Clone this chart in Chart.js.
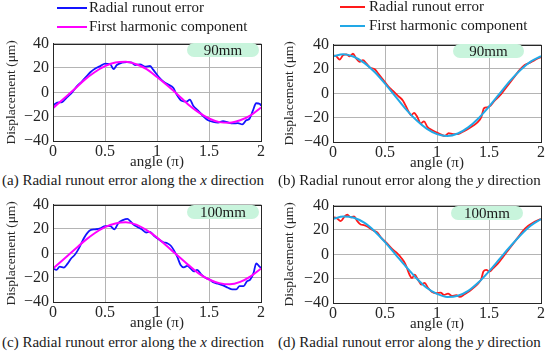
<!DOCTYPE html>
<html>
<head>
<meta charset="utf-8">
<script src="https://cdn.jsdelivr.net/npm/chart.js@4.4.1/dist/chart.umd.min.js"></script>
<style>
  body { margin: 0; background: #fff; }
  #wrap { position: relative; width: 550px; height: 354px; overflow: hidden;
          font-family: "Liberation Serif", "Times New Roman", serif; color: #1a1a1a; }
  canvas { position: absolute; }
  .legend { position: absolute; font-size: 15px; line-height: 19px; }
  .legend .row { display: flex; align-items: center; white-space: nowrap; }
  .legend .swatch { display: inline-block; height: 2px; }
  .caption { position: absolute; font-size: 15px; line-height: 16px; white-space: nowrap; }
  .tag { position: absolute; height: 14px; border-radius: 7px; background: #c8f4dc;
         font-size: 15px; line-height: 15px; text-align: center; }
</style>
</head>
<body>
<div id="wrap">
  <canvas id="chartA" width="275" height="142" style="left:0;top:30px"></canvas>
  <canvas id="chartB" width="272" height="142" style="left:278px;top:31px"></canvas>
  <canvas id="chartC" width="275" height="142" style="left:0;top:191px"></canvas>
  <canvas id="chartD" width="272" height="142" style="left:278px;top:192px"></canvas>

  <div class="legend" id="legendA" style="left:57px;top:-2px"></div>
  <div class="legend" id="legendB" style="left:340px;top:-3px"></div>

  <div class="tag" style="left:187px;top:43px;width:72px">90mm</div>
  <div class="tag" style="left:453px;top:44px;width:71px">90mm</div>
  <div class="tag" style="left:187px;top:205px;width:72px">100mm</div>
  <div class="tag" style="left:451px;top:206px;width:72px">100mm</div>

  <div class="caption" style="left:2px;top:172px">(a) Radial runout error along the <i>x</i> direction</div>
  <div class="caption" style="left:278px;top:172px">(b) Radial runout error along the <i>y</i> direction</div>
  <div class="caption" style="left:2px;top:334px">(c) Radial runout error along the <i>x</i> direction</div>
  <div class="caption" style="left:278px;top:334px">(d) Radial runout error along the <i>y</i> direction</div>
</div>

<script>
// ---- data (angle in units of pi, displacement in um) ----
const xTickValues = [0, 0.5, 1, 1.5, 2];
const yTickValues = [-40, -20, 0, 20, 40];

const harmonicAngles = [0, 0.1, 0.2, 0.3, 0.4, 0.5, 0.6, 0.7, 0.8, 0.9, 1,
                        1.1, 1.2, 1.3, 1.4, 1.5, 1.6, 1.7, 1.8, 1.9, 2];

// (a) 90mm, x direction
const anglesA = [0, 0.04, 0.088, 0.136, 0.184, 0.231, 0.279, 0.327, 0.359, 0.407,
                 0.455, 0.502, 0.55, 0.582, 0.614, 0.662, 0.71, 0.758, 0.789, 0.837,
                 0.885, 0.933, 0.965, 1.013, 1.06, 1.108, 1.156, 1.188, 1.236, 1.284,
                 1.316, 1.348, 1.395, 1.443, 1.491, 1.539, 1.587, 1.635, 1.683, 1.73,
                 1.778, 1.82, 1.858, 1.89, 1.922, 1.954, 1.99, 2];
const runoutA = [-11, -8.5, -8, -4, 0, 5, 9, 13.5, 16.5, 19.5,
                 21.5, 23.5, 23.2, 19, 22.4, 24.3, 24.8, 24.3, 22.4, 23,
                 21, 21.6, 18.4, 13, 9, 6.4, 3.7, -1.6, -7, -7.7,
                 -6, -11, -15, -19.5, -23, -24.3, -24.8, -23.7, -24.8, -25.6,
                 -25.3, -26.4, -23, -21.6, -15, -9, -9.6, -11];
const harmonicA = [-13, -5.5, 2, 10, 16.5, 21.5, 24.5, 25, 23, 19, 12.5,
                   5.5, -2, -10, -16.5, -21.5, -24.5, -25, -23, -19, -12.5];

// (b) 90mm, y direction
const anglesB = [0, 0.032, 0.064, 0.096, 0.128, 0.16, 0.192, 0.224, 0.256, 0.288,
                 0.321, 0.353, 0.401, 0.433, 0.481, 0.529, 0.577, 0.625, 0.673, 0.721,
                 0.753, 0.779, 0.811, 0.843, 0.875, 0.907, 0.946, 0.994, 1.042, 1.074,
                 1.112, 1.154, 1.202, 1.25, 1.298, 1.346, 1.394, 1.426, 1.452, 1.484,
                 1.516, 1.554, 1.603, 1.651, 1.699, 1.747, 1.795, 1.843, 1.891, 1.939,
                 1.987, 2];
const runoutB = [31.2, 30.4, 27.7, 31.2, 32, 30.4, 32.5, 28.5, 25.9, 27.2,
                 24.5, 21.3, 19.7, 16.5, 11.2, 5.9, 1.9, -2.1, -6.1, -14,
                 -18, -16, -19.5, -24.8, -23, -27.5, -30, -32, -34, -35,
                 -32.8, -33.6, -33.5, -31.5, -29.3, -26.7, -23.5, -19.5, -12.3, -11.5,
                 -10, -6.1, -2, 3.2, 8.5, 13.9, 19.2, 23.2, 25, 27.2,
                 29.3, 29.5];
const harmonicB = [30.5, 32, 30, 25, 17.5, 8, -2.5, -13, -22, -29, -33.5,
                   -35, -33, -28, -20.5, -11, -0.5, 10, 19, 26, 30.5];

// (c) 100mm, x direction
const anglesC = [0, 0.033, 0.065, 0.104, 0.142, 0.174, 0.206, 0.238, 0.27, 0.301,
                 0.333, 0.365, 0.407, 0.455, 0.502, 0.55, 0.589, 0.63, 0.671, 0.716,
                 0.742, 0.774, 0.812, 0.853, 0.895, 0.933, 0.971, 1.013, 1.061, 1.099,
                 1.131, 1.163, 1.195, 1.227, 1.258, 1.29, 1.322, 1.354, 1.386, 1.427,
                 1.469, 1.507, 1.539, 1.587, 1.635, 1.683, 1.724, 1.762, 1.794, 1.833,
                 1.864, 1.896, 1.928, 1.954, 1.986, 2];
const runoutC = [-12.3, -13.6, -11, -11.7, -8.3, -4.3, -1.6, 2.4, 7.7, 13,
                 17, 19.2, 19.7, 20.5, 22.4, 22.4, 19.7, 25, 27.2, 28.3,
                 26.4, 23.7, 21.6, 19.7, 17.1, 17.6, 14.4, 11.7, 9.1, 8.3,
                 6.4, 2.4, -2.9, -9.6, -11.5, -10.4, -12.3, -14.9, -13.6, -17.6,
                 -20.3, -21.6, -23.7, -25, -26.4, -28.3, -29.6, -29.6, -27, -27,
                 -23, -21.6, -16.3, -8.3, -11, -12];
const harmonicC = [-12.5, -5, 2.5, 10, 16.5, 21.5, 24.5, 25.5, 23.5, 19, 13,
                   5.5, -2, -9.5, -16.5, -21.5, -24.5, -25.5, -23.5, -19, -12.5];

// (d) 100mm, y direction
const anglesD = [0, 0.032, 0.074, 0.112, 0.138, 0.17, 0.202, 0.234, 0.266, 0.298,
                 0.337, 0.385, 0.426, 0.465, 0.513, 0.561, 0.609, 0.657, 0.696, 0.737,
                 0.76, 0.785, 0.817, 0.849, 0.881, 0.913, 0.952, 0.994, 1.035, 1.067,
                 1.106, 1.144, 1.186, 1.218, 1.266, 1.314, 1.362, 1.401, 1.426, 1.446,
                 1.474, 1.506, 1.538, 1.587, 1.635, 1.683, 1.731, 1.779, 1.827, 1.875,
                 1.923, 1.987, 2];
const runoutD = [30.4, 29.9, 27.2, 31.2, 32.5, 30.4, 31.2, 27.2, 24.5, 24,
                 22.4, 19.7, 17.9, 13.5, 9.5, 5, 1.5, -3, -8, -17,
                 -19.5, -16.8, -20.8, -24.8, -23.5, -27.5, -31, -32, -31.5, -33.3,
                 -32.3, -34.1, -33.6, -35, -32.8, -30.1, -26.7, -23.5, -20.3, -14.1,
                 -12.8, -14.1, -11.5, -7.5, -2.1, 3.2, 8.5, 13.9, 19.2, 23.2,
                 25.9, 28.5, 29];
const harmonicD = [29, 31, 30, 26, 19, 10, 0, -10, -19.5, -27.5, -32.5,
                   -35, -34, -30, -23, -14, -4, 6, 15.5, 23.5, 29];

const seriesNames = ["Radial runout error", "First harmonic component"];

// ---- drawing ----
const FONT = "'Liberation Serif', serif";
const INK = "#262626";

// box around the plot area, like a matlab axes
const frame = {
  id: "frame",
  afterDraw(chart) {
    const { ctx, chartArea: a } = chart;
    ctx.save();
    ctx.strokeStyle = INK;
    ctx.lineWidth = 1;
    ctx.strokeRect(Math.round(a.left) + 0.5, Math.round(a.top) + 0.5,
                   Math.round(a.right - a.left), Math.round(a.bottom - a.top));
    ctx.restore();
  }
};

const toPoints = (xs, ys) => xs.map((x, i) => ({ x, y: ys[i] }));

function makeChart(id, angles, runout, harmonic, colors, yWidth, padRight) {
  return new Chart(document.getElementById(id), {
    type: "line",
    data: {
      datasets: [
        {
          label: seriesNames[0],
          data: toPoints(angles, runout),
          borderColor: colors[0],
          borderWidth: 1.8,
          pointRadius: 0,
          cubicInterpolationMode: "monotone",
          order: 2,
        },
        {
          label: seriesNames[1],
          data: toPoints(harmonicAngles, harmonic),
          borderColor: colors[1],
          borderWidth: 2,
          pointRadius: 0,
          cubicInterpolationMode: "monotone",
          order: 1,
        },
      ],
    },
    options: {
      responsive: false,
      animation: false,
      layout: { padding: { top: 11, right: padRight, left: 0, bottom: 0 } },
      plugins: { legend: { display: false }, tooltip: { enabled: false } },
      scales: {
        x: {
          type: "linear",
          min: 0,
          max: 2,
          afterBuildTicks: (s) => { s.ticks = xTickValues.map((v) => ({ value: v })); },
          afterFit: (s) => { s.height = 31; },
          grid: { color: "#b4b4b4", drawTicks: false },
          border: { color: INK },
          ticks: {
            padding: 1,
            color: INK,
            font: { family: FONT, size: 16 },
            maxRotation: 0,
            callback: (v) => String(v),
          },
          title: {
            display: true,
            text: "angle (π)",
            color: INK,
            font: { family: FONT, size: 15 },
            padding: { top: 0, bottom: 1 },
          },
        },
        y: {
          min: -40,
          max: 40,
          afterBuildTicks: (s) => { s.ticks = yTickValues.map((v) => ({ value: v })); },
          afterFit: (s) => { s.width = yWidth; },
          grid: { color: "#b4b4b4", drawTicks: false },
          border: { color: INK },
          ticks: {
            padding: 4,
            color: INK,
            font: { family: FONT, size: 16 },
            callback: (v) => (v < 0 ? "\u2212" + Math.abs(v) : String(v)),
          },
          title: {
            display: true,
            text: "Displacement (μm)",
            color: INK,
            font: { family: FONT, size: 13.5 },
            padding: { top: 3, bottom: 0 },
          },
        },
      },
    },
    plugins: [frame],
  });
}

// legend built from the chart's own datasets
function buildLegend(chart, elId, swatchWidth, gap) {
  const el = document.getElementById(elId);
  chart.data.datasets.forEach((ds) => {
    const row = document.createElement("div");
    row.className = "row";
    row.innerHTML =
      `<span class="swatch" style="width:${swatchWidth}px;background:${ds.borderColor};margin-right:${gap}px"></span>` +
      `<span>${ds.label}</span>`;
    el.appendChild(row);
  });
}

const blueMagenta = ["#1414ff", "#ff00ff"];
const redCyan = ["#ff1a1a", "#22a8e6"];

function drawAll() {
  const chartA = makeChart("chartA", anglesA, runoutA, harmonicA, blueMagenta, 53, 14);
  const chartB = makeChart("chartB", anglesB, runoutB, harmonicB, redCyan, 55, 9);
  makeChart("chartC", anglesC, runoutC, harmonicC, blueMagenta, 53, 14);
  makeChart("chartD", anglesD, runoutD, harmonicD, redCyan, 55, 9);

  buildLegend(chartA, "legendA", 30, 2);
  buildLegend(chartB, "legendB", 25, 4);
}

// make sure the serif face is ready before the canvases draw text
Promise.all([
  document.fonts.load("16px 'Liberation Serif'"),
  document.fonts.load("italic 15px 'Liberation Serif'"),
]).catch(() => {}).then(drawAll);
</script>
</body>
</html>
